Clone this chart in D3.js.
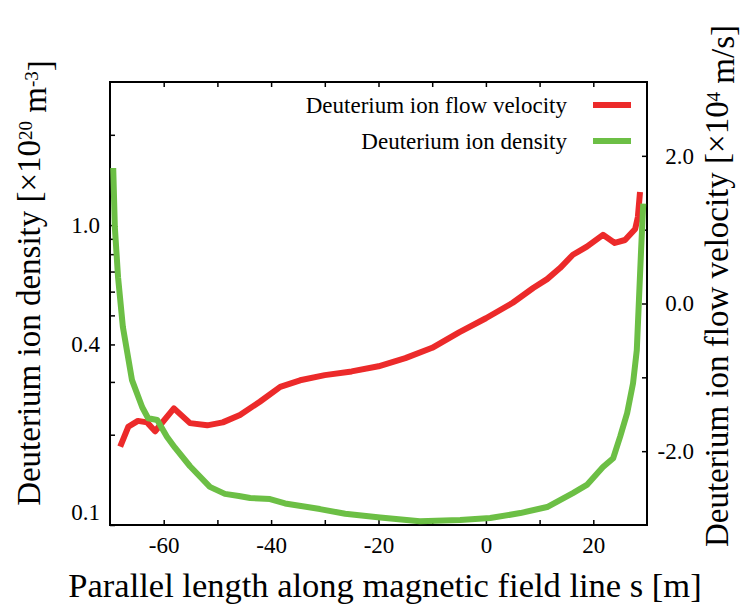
<!DOCTYPE html>
<html>
<head>
<meta charset="utf-8">
<script src="https://cdn.jsdelivr.net/npm/d3@7"></script>
<style>
  html, body { margin: 0; padding: 0; background: #fff; }
  svg { display: block; }
  text { font-family: "Liberation Serif", "Times New Roman", serif; fill: #000; }
</style>
</head>
<body>
<svg id="chart" width="742" height="610"></svg>
<script>
// ---- data ----
const sVelocity = [-68.1, -66.6, -64.8, -63.1, -61.6, -58.1, -55.1, -51.9, -49.0, -45.8, -42.1, -38.3, -34.6, -30, -25, -20, -15, -10, -5, 0, 5, 8.8, 11.4, 13.8, 16.2, 18.8, 21.8, 24.0, 25.9, 27.8, 28.3, 28.7];
const velocity = [-1.94, -1.67, -1.59, -1.61, -1.73, -1.42, -1.62, -1.65, -1.61, -1.51, -1.33, -1.13, -1.04, -0.97, -0.92, -0.85, -0.74, -0.60, -0.39, -0.20, 0.01, 0.21, 0.33, 0.48, 0.66, 0.77, 0.93, 0.82, 0.86, 1.01, 1.17, 1.51];

const sDensity = [-69.4, -69.1, -68.5, -67.6, -65.9, -64.0, -62.9, -61.2, -59.4, -57.9, -55.1, -51.4, -48.6, -46.0, -43.9, -40.2, -37.4, -30.9, -26.2, -19.7, -12.3, -4.8, 0.8, 6.4, 11.4, 16.2, 18.8, 21.8, 23.7, 25.0, 26.3, 27.4, 28.1, 28.5, 28.9, 29.3];
const density = [1.55, 0.985, 0.67, 0.457, 0.304, 0.247, 0.227, 0.224, 0.197, 0.181, 0.157, 0.134, 0.127, 0.125, 0.123, 0.122, 0.118, 0.113, 0.109, 0.106, 0.103, 0.104, 0.1055, 0.1096, 0.1148, 0.1278, 0.136, 0.156, 0.167, 0.197, 0.236, 0.297, 0.383, 0.562, 0.825, 1.18];

const xTicks = [-60, -50, -40, -30, -20, -10, 0, 10, 20];
const xTickLabels = {"-60": "-60", "-40": "-40", "-20": "-20", "0": "0", "20": "20"};
const leftTicks = [0.1, 0.2, 0.3, 0.4, 0.5, 0.6, 0.7, 0.8, 0.9, 1.0, 2.0];
const leftTickLabels = {"0.1": "0.1", "0.4": "0.4", "1": "1.0"};
const rightTicks = [-2, -1, 0, 1, 2];
const rightTickLabels = {"-2": "-2.0", "0": "0.0", "2": "2.0"};

const seriesNames = ["Deuterium ion flow velocity", "Deuterium ion density"];
const seriesColors = ["#ec2a2a", "#6cbf45"];

// ---- layout ----
const FONT = '"Liberation Serif", "Times New Roman", serif';
const L = 110, R = 647, T = 82, B = 525;
const svg = d3.select("#chart");

const x = d3.scaleLinear().domain([-70, 30]).range([L, R]);
const yL = d3.scaleLog().domain([0.1, 3.0]).range([B, T]);
const yR = d3.scaleLinear().domain([-3, 3]).range([B, T]);

const tickFont = "23px";

// bottom axis
const gB = svg.append("g").attr("transform", `translate(0,${B})`)
  .call(d3.axisBottom(x).tickValues(xTicks).tickSize(-5).tickPadding(10)
    .tickFormat(d => xTickLabels[String(d)] || ""));
// top axis
const gT = svg.append("g").attr("transform", `translate(0,${T})`)
  .call(d3.axisTop(x).tickValues(xTicks).tickSize(-5).tickFormat(""));
// left axis
const gL = svg.append("g").attr("transform", `translate(${L},0)`)
  .call(d3.axisLeft(yL).tickValues(leftTicks).tickSize(-5).tickPadding(10)
    .tickFormat(d => leftTickLabels[String(+d.toFixed(1))] || ""));
// right axis
const gR = svg.append("g").attr("transform", `translate(${R},0)`)
  .call(d3.axisRight(yR).tickValues(rightTicks).tickSize(-5).tickPadding(10)
    .tickFormat(d => rightTickLabels[String(d)] || ""));

[gB, gT, gL, gR].forEach(g => {
  g.attr("font-family", FONT).attr("font-size", 23);
  g.select(".domain").remove();
  g.selectAll(".tick line").attr("stroke", "#000").attr("stroke-width", 1.5);
  g.selectAll(".tick text").style("font-family", FONT)
    .style("font-size", tickFont).attr("fill", "#000");
});
gB.selectAll(".tick text").attr("dy", "0.71em").attr("y", 12);
gL.selectAll(".tick text").attr("x", -10);
gL.selectAll(".tick").filter(d => Math.abs(d - 0.1) < 1e-9).select("text").attr("dy", "-0.25em");
gR.selectAll(".tick text").attr("text-anchor", "end").attr("x", 47);

// frame
svg.append("rect").attr("x", L).attr("y", T).attr("width", R - L).attr("height", B - T)
  .attr("fill", "none").attr("stroke", "#000").attr("stroke-width", 2);

// lines
const velData = sVelocity.map((s, i) => [s, velocity[i]]);
const denData = sDensity.map((s, i) => [s, density[i]]);

svg.append("path").datum(velData)
  .attr("fill", "none").attr("stroke", seriesColors[0]).attr("stroke-width", 6)
  .attr("stroke-linejoin", "round")
  .attr("d", d3.line().x(d => x(d[0])).y(d => yR(d[1])));

svg.append("path").datum(denData)
  .attr("fill", "none").attr("stroke", seriesColors[1]).attr("stroke-width", 6)
  .attr("stroke-linejoin", "round")
  .attr("d", d3.line().x(d => x(d[0])).y(d => yL(d[1])));

// legend
const legY = [105, 141];
seriesNames.forEach((name, i) => {
  svg.append("line").attr("x1", 593).attr("x2", 631).attr("y1", legY[i]).attr("y2", legY[i])
    .attr("stroke", seriesColors[i]).attr("stroke-width", 6);
  svg.append("text").attr("x", 567).attr("y", legY[i] + 8).attr("text-anchor", "end")
    .style("font-size", "23px").text(name);
});

// axis titles
svg.append("text").attr("x", 385).attr("y", 597).attr("text-anchor", "middle")
  .style("font-size", "34.5px").text("Parallel length along magnetic field line s [m]");

const lt = svg.append("text").attr("transform", "translate(40,283) rotate(-90)")
  .attr("text-anchor", "middle").style("font-size", "33px");
lt.append("tspan").text("Deuterium ion density [\u00d710");
lt.append("tspan").attr("dy", "-0.4em").style("font-size", "19px").text("20");
lt.append("tspan").attr("dy", "0.4em").text(" m");
lt.append("tspan").attr("dy", "-0.4em").style("font-size", "19px").text("-3");
lt.append("tspan").attr("dy", "0.4em").text("]");

const rt = svg.append("text").attr("transform", "translate(728,286) rotate(-90)")
  .attr("text-anchor", "middle").style("font-size", "33px");
rt.append("tspan").text("Deuterium ion flow velocity [\u00d710");
rt.append("tspan").attr("dy", "-0.4em").style("font-size", "19px").text("4");
rt.append("tspan").attr("dy", "0.4em").text(" m/s]");
</script>
</body>
</html>
